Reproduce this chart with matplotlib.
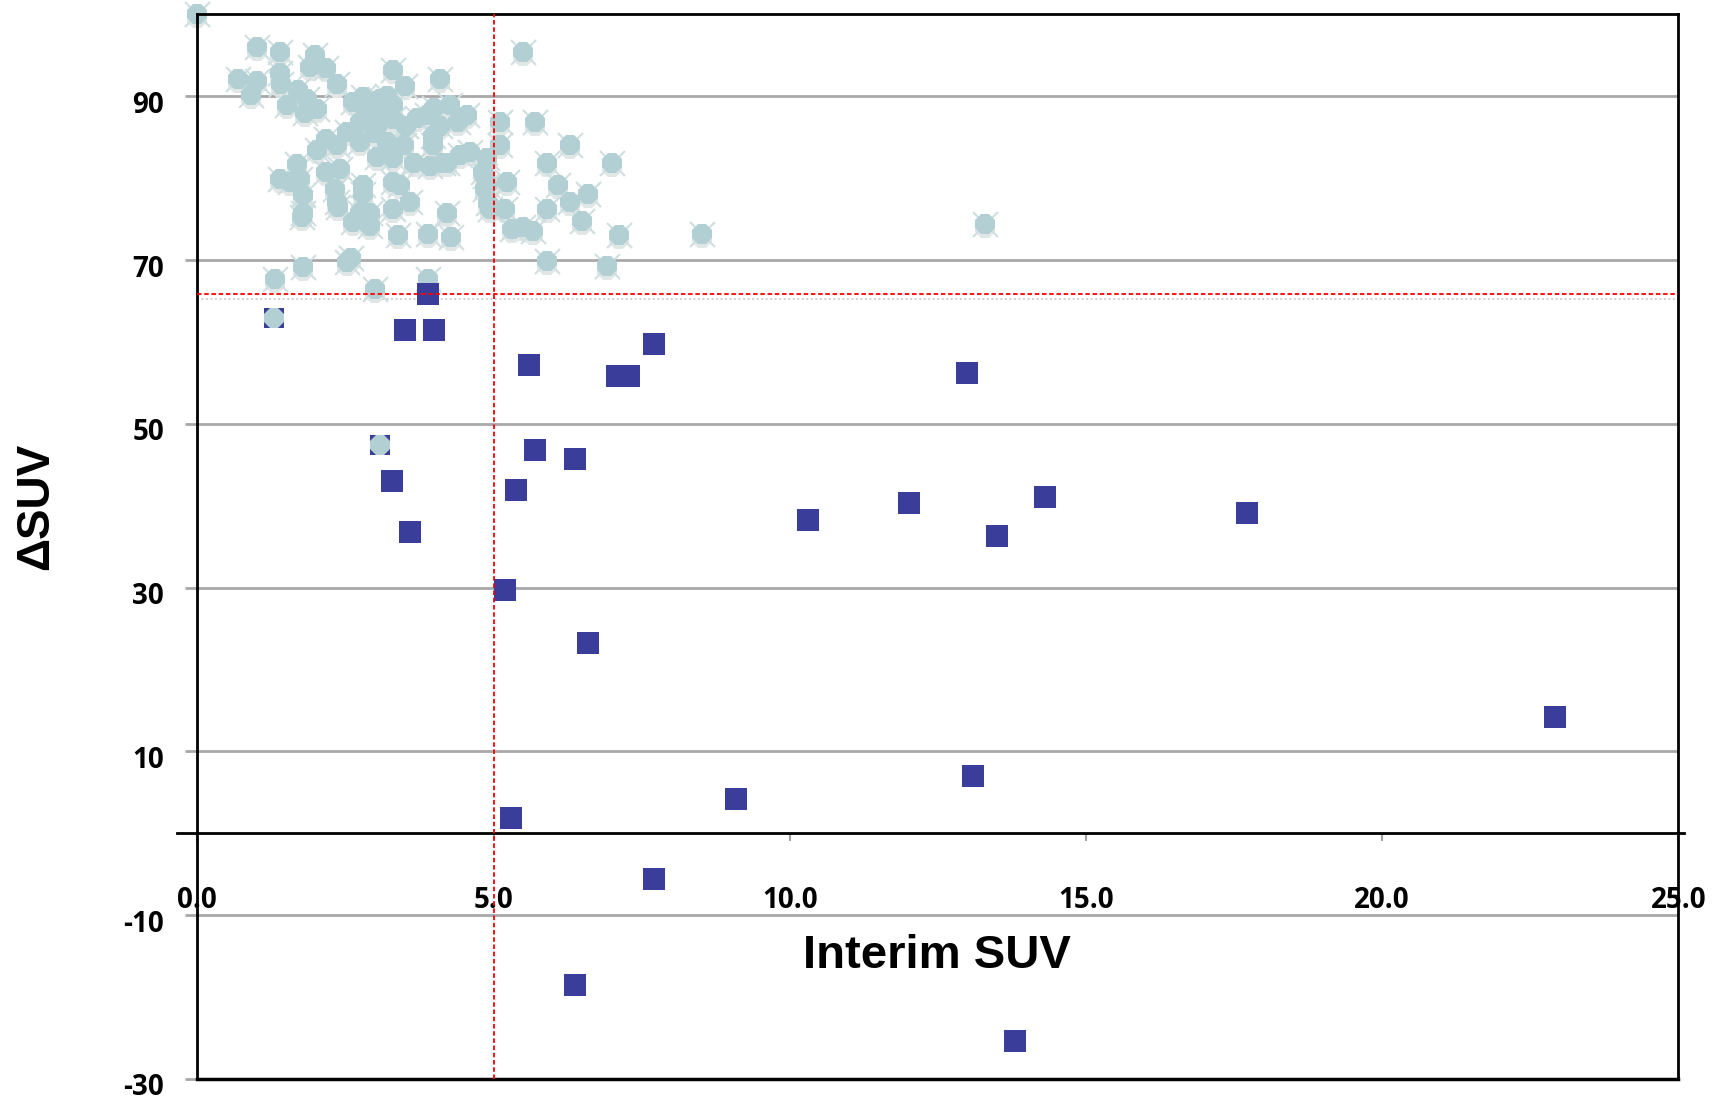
import matplotlib
matplotlib.use("Agg")
import matplotlib.pyplot as plt
from matplotlib.transforms import offset_copy, ScaledTranslation

plt.rcParams['axes.unicode_minus'] = False

# Responders (light teal) - interim SUV vs delta SUV
teal_x = [0.0, 1.0, 1.40, 5.50, 0.69, 1.0, 0.90, 1.99, 1.90, 2.18, 1.40, 1.42, 1.70, 2.35,
          1.51, 1.82, 2.02, 1.85, 3.31, 3.51, 4.10, 2.63, 2.86, 3.08, 3.14, 3.31, 3.03, 2.75,
          3.53, 3.48, 3.20, 2.52, 2.18, 2.35, 2.75, 2.02, 1.68, 2.18, 2.41, 3.03, 3.31, 3.65,
          3.93, 4.21, 3.98, 3.98, 3.87, 4.27, 4.55, 4.10, 4.60, 4.43, 5.11, 5.11, 5.70, 4.89,
          4.83, 4.89, 5.22, 4.94, 5.19, 5.90, 6.29, 6.09, 6.29, 5.90, 5.31, 5.67, 5.90, 1.73,
          1.40, 1.57, 1.79, 1.79, 1.76, 2.32, 2.35, 2.38, 2.80, 2.80, 2.75, 2.63, 2.92, 2.92,
          3.31, 3.42, 3.31, 3.59, 3.39, 3.90, 4.29, 4.21, 2.52, 2.60, 1.79, 1.31, 3.00, 3.90,
          7.00, 6.60, 6.50, 7.11, 8.51, 6.91, 5.50, 4.86, 4.86, 4.90, 13.30, 3.70, 4.15, 2.80,
          3.20, 2.90, 3.30, 3.00, 4.40, 4.00]
teal_y = [100.0, 96.0, 95.4, 95.4, 92.1, 91.8, 90.2, 95.0, 93.6, 93.4, 92.8, 91.5, 90.8, 91.5,
          88.9, 87.9, 88.5, 89.7, 93.2, 91.3, 92.1, 89.3, 88.1, 89.7, 88.1, 88.9, 86.4, 86.8,
          86.4, 84.0, 84.4, 85.6, 84.8, 84.0, 84.4, 83.4, 81.7, 80.7, 81.1, 82.6, 82.4, 81.9,
          81.5, 81.9, 85.2, 84.0, 87.7, 88.9, 87.7, 86.4, 83.2, 82.8, 86.8, 84.0, 86.8, 82.4,
          80.7, 79.1, 79.5, 76.2, 76.2, 81.9, 84.0, 79.1, 77.1, 76.2, 73.8, 73.6, 69.9, 79.9,
          79.9, 79.5, 77.9, 75.8, 75.3, 78.7, 77.1, 76.5, 79.1, 78.0, 75.8, 74.6, 74.2, 75.8,
          79.5, 79.1, 76.2, 77.1, 73.0, 73.2, 72.8, 75.8, 69.7, 70.3, 69.1, 67.7, 66.4, 67.7,
          81.9, 78.1, 74.8, 73.0, 73.2, 69.3, 74.0, 80.3, 78.7, 77.0, 74.4, 87.3, 81.9, 89.9,
          90.0, 87.0, 87.2, 85.5, 86.8, 88.6]

# Non-responders (dark blue squares)
blue_x = [3.90, 3.50, 4.00, 5.59, 7.70, 7.08, 7.28, 12.99, 5.70, 6.38, 3.29, 5.38, 3.59,
          10.31, 12.01, 14.30, 13.49, 17.71, 5.20, 6.59, 22.91, 13.10, 9.10, 5.29, 7.70,
          6.38, 13.80]
blue_y = [65.8, 61.5, 61.5, 57.2, 59.7, 55.8, 55.8, 56.2, 46.8, 45.7, 43.0, 41.9, 36.8,
          38.3, 40.3, 41.1, 36.3, 39.1, 29.7, 23.2, 14.2, 7.0, 4.2, 1.8, -5.6, -18.6, -25.4]

# points where both markers overlap
both_x = [1.30, 3.09]
both_y = [62.9, 47.4]

suv_cut = 5.0
delta_cut = 65.8

y_ticks = [-30, -10, 10, 30, 50, 70, 90]
x_ticks = [0, 5, 10, 15, 20, 25]
x_ticklabels = ['0.0', '5.0', '10.0', '15.0', '20.0', '25.0']

teal = '#b2d0d3'
navy = '#3a3e9a'

fig = plt.figure(figsize=(17.19, 11.03), dpi=100)
ax = fig.add_axes([0.1148, 0.0219, 0.8616, 0.9651])
ax.set_xlim(0, 25)
ax.set_ylim(-30, 100)

# grid + frame
ax.set_yticks(y_ticks)
ax.yaxis.grid(True, color='#a8a8a8', lw=2)
ax.set_axisbelow(True)
for s in ['left', 'top', 'right']:
    ax.spines[s].set_color('black')
    ax.spines[s].set_linewidth(2)
ax.spines['bottom'].set_position(('data', 0))
ax.spines['bottom'].set_visible(False)
ax.plot([-0.014, 1.004], [0, 0], transform=ax.get_yaxis_transform(), color='black',
        lw=2, clip_on=False, zorder=6)
ax.axhline(-30, color='black', lw=2.5, clip_on=False, zorder=6)

# cut-off lines
ax.axvline(suv_cut, color='red', lw=1.3, ls=(0, (2.5, 1.5)), zorder=7)
ax.axhline(delta_cut - 0.6, color='#c8c8c8', lw=1.3, ls=(0, (1, 1.5)), zorder=1)
ax.axhline(delta_cut, color='red', lw=1.3, ls=(0, (2.5, 1.5)), zorder=7)

# teal markers with a soft shadow
shadow = offset_copy(ax.transData, fig=fig, x=0, y=-4, units='dots')
ax.plot(teal_x, teal_y, ls='none', marker='8', ms=15, color='#e1e6e6', mew=0,
        transform=shadow, zorder=2, clip_on=False)
ax.plot(teal_x, teal_y, ls='none', marker='x', ms=18, color='#cfdfe0', mew=1.5, zorder=2,
        clip_on=False)
ax.plot(teal_x, teal_y, ls='none', marker='8', ms=16, color=teal, mew=0, zorder=2,
        clip_on=False)

ax.plot(blue_x, blue_y, ls='none', marker='s', ms=16, color=navy, mew=0, zorder=4)
ax.plot(both_x, both_y, ls='none', marker='s', ms=15, color=navy, mew=0, zorder=4)
ax.plot(both_x, both_y, ls='none', marker='8', ms=16, color=teal, mew=0, zorder=5)

# ticks and labels
ax.set_xticks(x_ticks)
ax.set_xticklabels(x_ticklabels)
ax.tick_params(axis='x', direction='out', length=6, width=1.5, color='#a0a0a0', pad=32)
ax.tick_params(axis='y', direction='out', length=9, width=2, color='#a8a8a8', pad=15)
for lab in ax.get_xticklabels() + ax.get_yticklabels():
    lab.set_fontfamily('Open Sans')
    lab.set_fontweight('bold')
    lab.set_fontsize(20)

# y labels sit a little below their gridlines in the original
nudge = ScaledTranslation(0, -4 / 72, fig.dpi_scale_trans)
for tick in ax.yaxis.get_major_ticks():
    tick.label1.set_transform(tick.label1.get_transform() + nudge)

ax.set_xlabel('Interim SUV', fontsize=34, fontweight='bold', family='Liberation Sans',
              va='center')
ax.xaxis.set_label_coords(0.4994, 0.1154)
ax.set_ylabel('ΔSUV', fontsize=33, fontweight='bold', family='Liberation Sans',
              va='center')
ax.yaxis.set_label_coords(-0.109, 0.538)

fig.savefig('out.png', dpi=100)
